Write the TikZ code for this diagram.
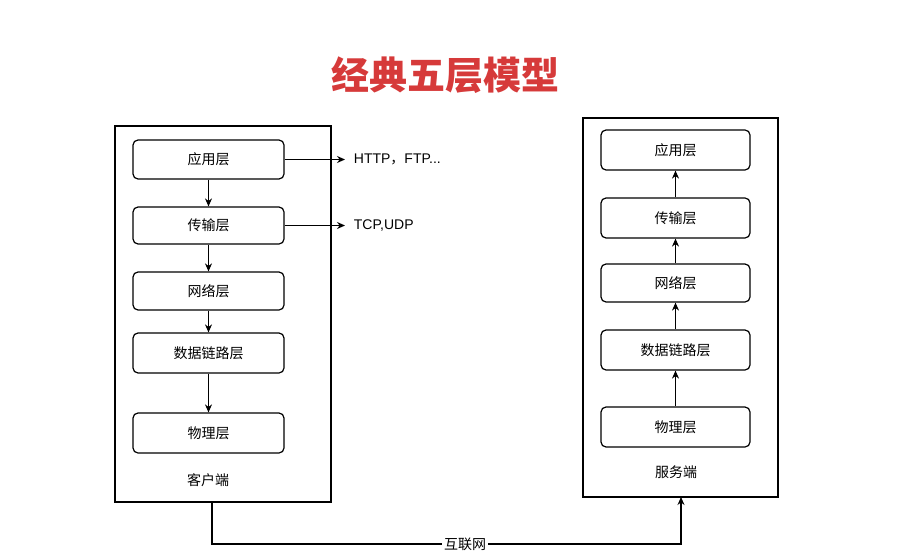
\documentclass[tikz,border=0pt]{standalone}
\usepackage{fontspec}
\setmainfont{Liberation Sans}
\newfontfamily\cjk{Noto Sans CJK SC}
\usetikzlibrary{arrows.meta, positioning}
\definecolor{titlered}{RGB}{214, 58, 58}

\begin{document}
\begin{tikzpicture}[
    x=1pt, y=-1pt,
    line width=1.2pt,
    layer/.style={
        rectangle, rounded corners=5pt, draw,
        font=\cjk\fontsize{14}{16}\selectfont, inner sep=0pt
    },
    flow/.style={-{Stealth[length=8pt,width=7pt]}}
]
    \useasboundingbox (0,0) rectangle (923,559);

    \node[font=\cjk\bfseries\fontsize{38}{42}\selectfont, text=titlered] (title) at (445,75) {经典五层模型};

    % client side
    \draw (115,126) rectangle (331,502);
    \node[layer, minimum width=151pt, minimum height=39pt] (capp) at (208.5,159.5) {应用层};
    \node[layer, minimum width=151pt, minimum height=37pt] (ctra) at (208.5,225.5) {传输层};
    \node[layer, minimum width=151pt, minimum height=38pt] (cnet) at (208.5,291) {网络层};
    \node[layer, minimum width=151pt, minimum height=40pt] (clnk) at (208.5,353) {数据链路层};
    \node[layer, minimum width=151pt, minimum height=40pt] (cphy) at (208.5,433) {物理层};
    \node[font=\cjk\fontsize{14}{16}\selectfont] (client) at (208,480) {客户端};

    \draw[flow] (capp) -- (ctra);
    \draw[flow] (ctra) -- (cnet);
    \draw[flow] (cnet) -- (clnk);
    \draw[flow] (clnk) -- (cphy);

    \coordinate (httpend) at (345,159.5);
    \coordinate (tcpend) at (345,225.5);
    \draw[flow] (capp.east) -- (httpend);
    \draw[flow] (ctra.east) -- (tcpend);
    \node[anchor=west, font=\fontsize{14}{16}\selectfont] (proto1) at (350,159.5) {HTTP{\cjk ，}FTP...};
    \node[anchor=west, font=\fontsize{14}{16}\selectfont] (proto2) at (350,225.5) {TCP,UDP};

    % server side
    \draw (583,118) rectangle (778,497);
    \node[layer, minimum width=149pt, minimum height=40pt] (sapp) at (675.5,150) {应用层};
    \node[layer, minimum width=149pt, minimum height=40pt] (stra) at (675.5,218) {传输层};
    \node[layer, minimum width=149pt, minimum height=38pt] (snet) at (675.5,283) {网络层};
    \node[layer, minimum width=149pt, minimum height=40pt] (slnk) at (675.5,350) {数据链路层};
    \node[layer, minimum width=149pt, minimum height=40pt] (sphy) at (675.5,427) {物理层};
    \node[font=\cjk\fontsize{14}{16}\selectfont] (server) at (676,472) {服务端};

    \draw[flow] (sphy) -- (slnk);
    \draw[flow] (slnk) -- (snet);
    \draw[flow] (snet) -- (stra);
    \draw[flow] (stra) -- (sapp);

    % internet link
    \coordinate (cbot) at (212,502);
    \coordinate (sbot) at (681,497);
    \draw[flow] (cbot) |- (446,544) -- (681,544) -- (sbot);
    \node[fill=white, inner sep=2pt, font=\cjk\fontsize{14}{16}\selectfont] (net) at (465,544) {互联网};
\end{tikzpicture}
\end{document}
